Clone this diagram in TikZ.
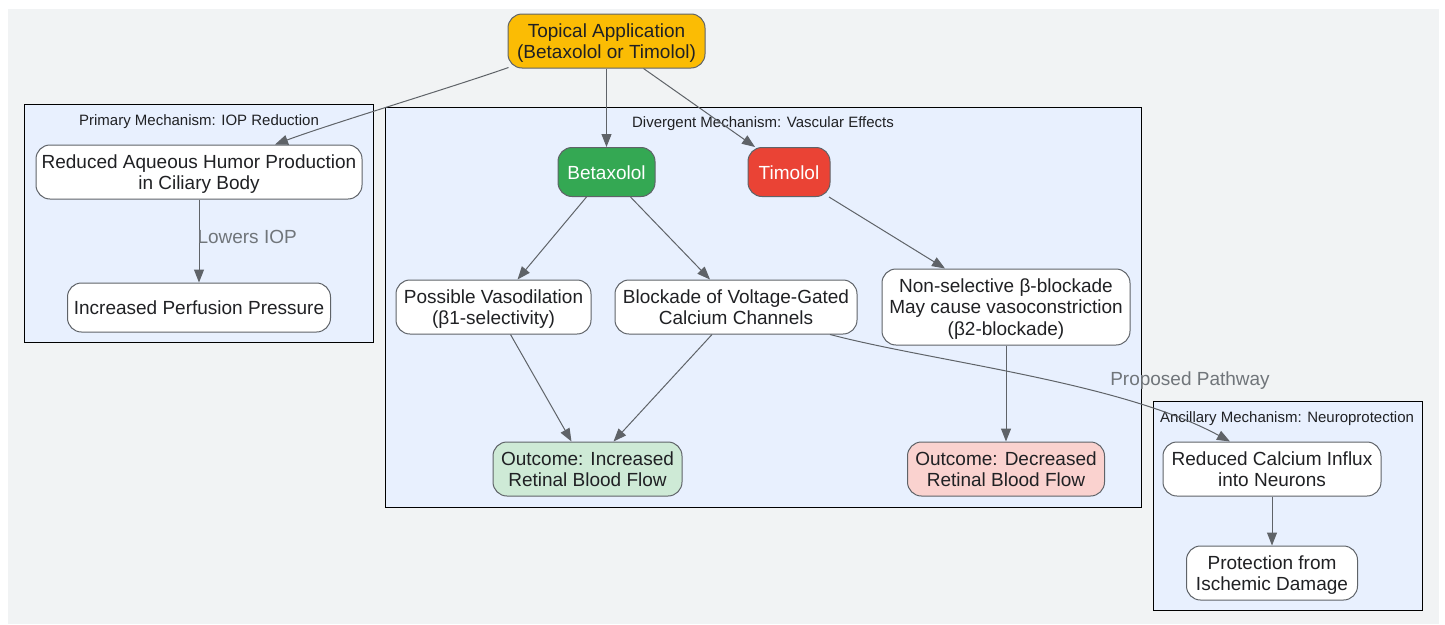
\documentclass[tikz,border=0pt]{standalone}
\usepackage{fontspec}
\setmainfont{Liberation Sans}
\usetikzlibrary{arrows.meta}
\definecolor{bgc}{HTML}{F1F3F4}
\definecolor{clusterc}{HTML}{E8F0FE}
\definecolor{linec}{HTML}{5F6368}
\definecolor{txtc}{HTML}{202124}
\definecolor{lblc}{HTML}{70757A}
\definecolor{yellowc}{HTML}{FBBC04}
\definecolor{greenc}{HTML}{34A853}
\definecolor{redc}{HTML}{EA4335}
\definecolor{lgreenc}{HTML}{CEEAD6}
\definecolor{lredc}{HTML}{FAD2CF}
\begin{document}
\begin{tikzpicture}[x=1pt,y=-1pt,
  cluster/.style={draw=black, line width=1.3pt, fill=clusterc, anchor=north west, inner sep=0pt},
  ctitle/.style={font=\fontsize{15}{17}\selectfont, text=txtc, inner sep=0pt},
  box/.style={draw=linec, line width=1pt, fill=white, rounded corners=14pt, align=center,
    font=\fontsize{19}{21.5}\selectfont, text=txtc, inner sep=0pt, text depth=-0.5pt},
  edge/.style={draw=linec, line width=1pt, -{Triangle[length=13pt,width=10pt]}},
  elabel/.style={font=\fontsize{19}{21}\selectfont, text=lblc, inner sep=0pt}
]
\useasboundingbox (0,0) rectangle (1445,624);
\fill[white] (0,0) rectangle (1445,624);
\fill[bgc] (8,9) rectangle (1439,624);

% clusters
\node[cluster, minimum width=349pt, minimum height=238pt] (c1) at (24,104) {};
\node[ctitle] (c1t) at (199,121.5) {Primary Mechanism: IOP Reduction};
\node[cluster, minimum width=756pt, minimum height=400pt] (c2) at (385,107) {};
\node[ctitle] (c2t) at (763,123.5) {Divergent Mechanism: Vascular Effects};
\node[cluster, minimum width=269pt, minimum height=209pt] (c3) at (1153,401) {};
\node[ctitle] (c3t) at (1287,418.5) {Ancillary Mechanism: Neuroprotection};

% nodes
\node[box, fill=yellowc, minimum width=197pt, minimum height=54pt] (top) at (606.5,41) {Topical Application\\(Betaxolol or Timolol)};
\node[box, minimum width=326pt, minimum height=54pt] (aq) at (199,172) {Reduced Aqueous Humor Production\\in Ciliary Body};
\node[box, minimum width=263pt, minimum height=49pt] (perf) at (199,307.5) {\raisebox{-1pt}{Increased Perfusion Pressure}};
\node[box, fill=greenc, text=white, minimum width=97pt, minimum height=49pt] (beta) at (606.5,172) {\raisebox{-2pt}{Betaxolol}};
\node[box, fill=redc, text=white, minimum width=82pt, minimum height=49pt] (tim) at (789,172) {\raisebox{-2pt}{Timolol}};
\node[box, minimum width=195pt, minimum height=54pt] (vaso) at (493.5,307) {Possible Vasodilation\\(β1-selectivity)};
\node[box, minimum width=242pt, minimum height=54pt] (block) at (736,307) {Blockade of Voltage-Gated\\Calcium Channels};
\node[box, minimum width=248pt, minimum height=76pt] (nons) at (1006,307) {Non-selective β-blockade\\May cause vasoconstriction\\(β2-blockade)};
\node[box, fill=lgreenc, minimum width=189pt, minimum height=54pt] (inc) at (587.5,469) {Outcome: Increased\\Retinal Blood Flow};
\node[box, fill=lredc, minimum width=197pt, minimum height=54pt] (dec) at (1006,469) {Outcome: Decreased\\Retinal Blood Flow};
\node[box, minimum width=218pt, minimum height=54pt] (calc) at (1272,469) {Reduced Calcium Influx\\into Neurons};
\node[box, minimum width=171pt, minimum height=54pt] (prot) at (1272,573) {Protection from\\Ischemic Damage};

% edges
\draw[edge] ([xshift=1pt,yshift=1pt]top.south west) .. controls (450,88) and (330,124) .. ([xshift=76pt]aq.north);
\draw[edge] (top.south) -- (beta.north);
\draw[edge] ([xshift=37pt]top.south) -- ([xshift=-34pt]tim.north);
\draw[edge] (aq.south) -- node[elabel, right, xshift=-2pt, pos=0.45] (lbl1) {Lowers IOP} (perf.north);
\draw[edge] ([xshift=-20pt]beta.south) -- ([xshift=24pt]vaso.north);
\draw[edge] ([xshift=24pt]beta.south) -- ([xshift=-26pt]block.north);
\draw[edge] ([xshift=40pt]tim.south) -- ([xshift=-61pt]nons.north);
\draw[edge] ([xshift=17pt]vaso.south) -- ([xshift=-16pt]inc.north);
\draw[edge] ([xshift=-24pt]block.south) -- ([xshift=26pt]inc.north);
\draw[edge] (nons.south) -- (dec.north);
\draw[edge] ([xshift=94pt]block.south) .. controls (935,362) and (1120,382) .. ([xshift=-42pt]calc.north);
\node[elabel] (lbl2) at (1190,381) {Proposed Pathway};
\draw[edge] (calc.south) -- (prot.north);
\end{tikzpicture}
\end{document}
